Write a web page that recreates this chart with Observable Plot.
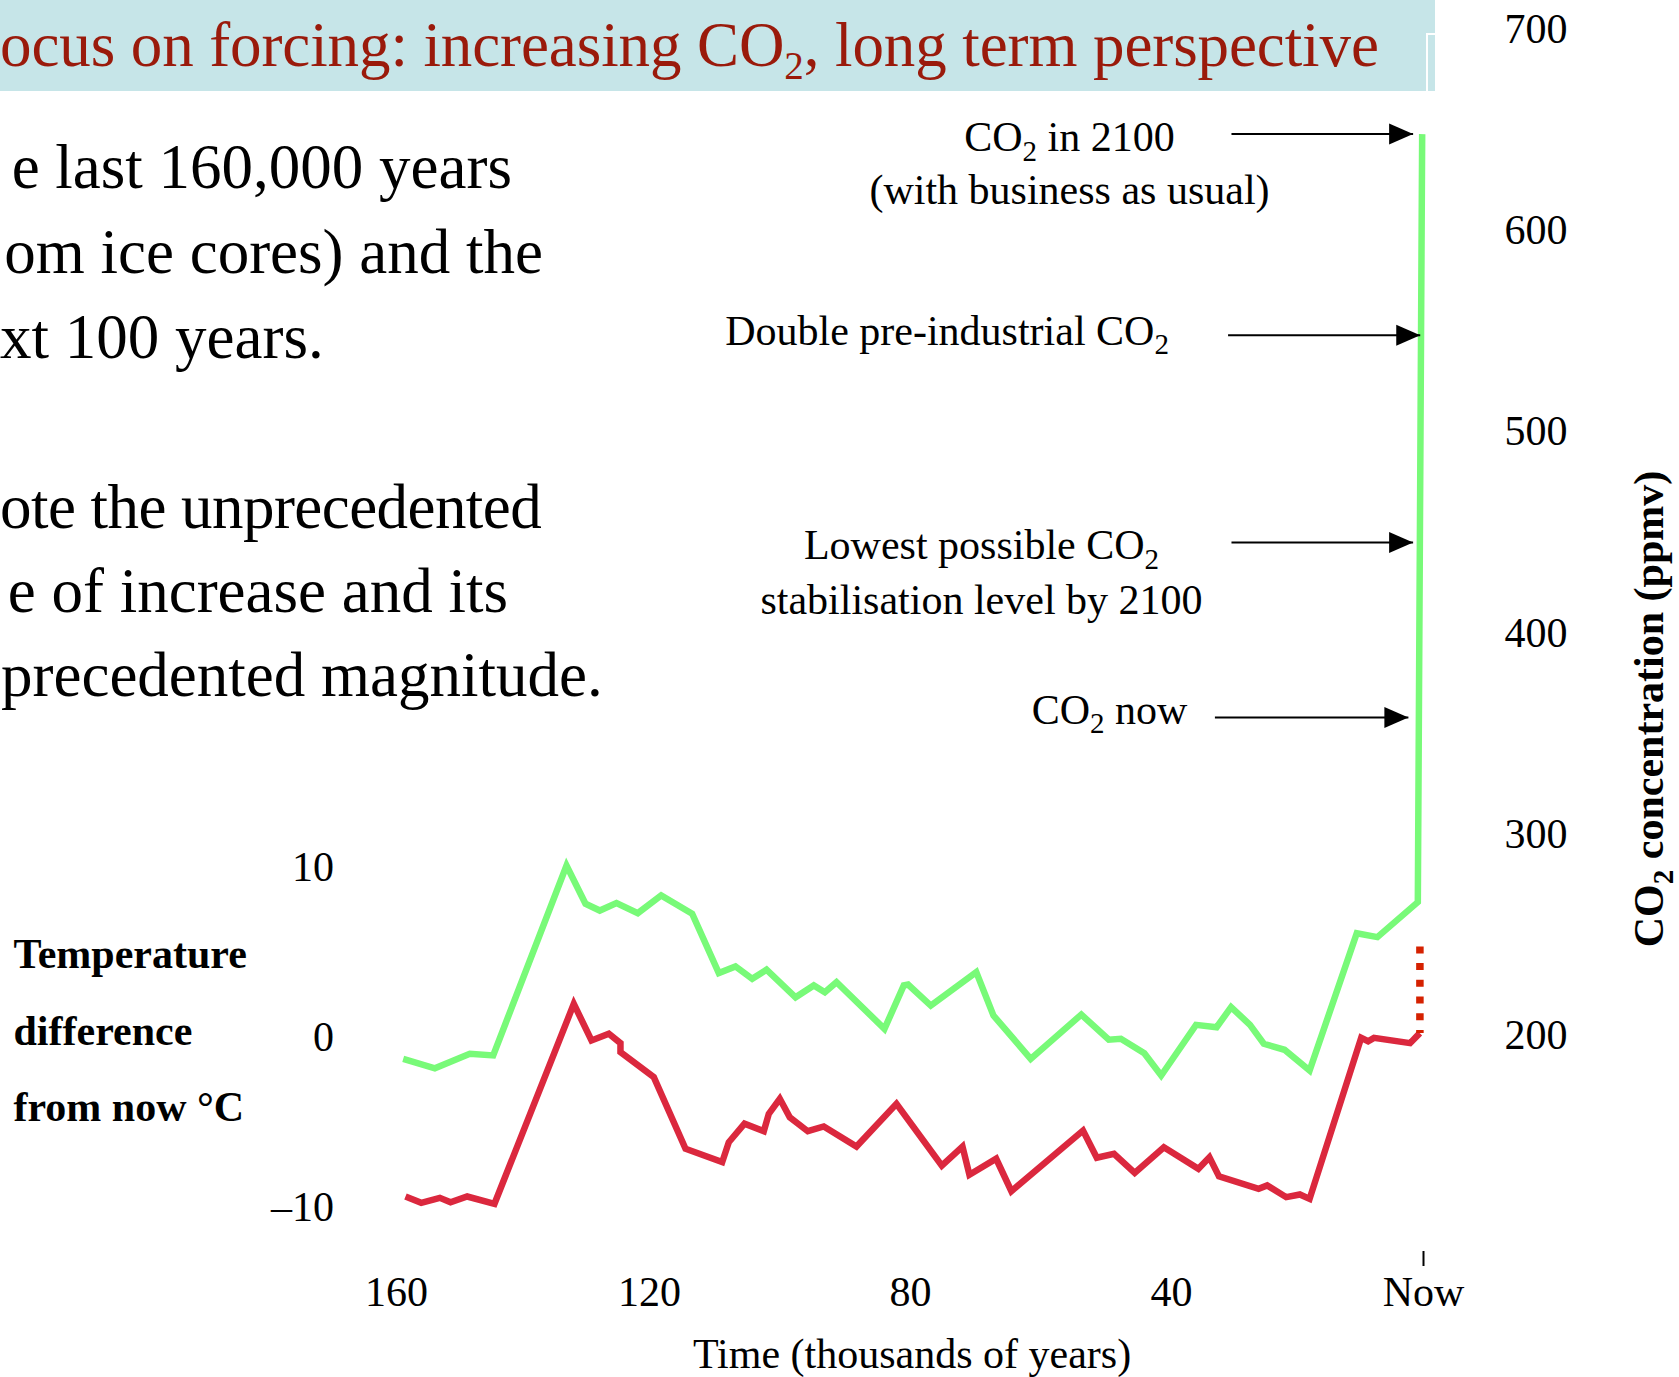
<!DOCTYPE html>
<html>
<head>
<meta charset="utf-8">
<script src="https://cdn.jsdelivr.net/npm/d3@7"></script>
<script src="https://cdn.jsdelivr.net/npm/@observablehq/plot@0.6"></script>
<style>
html, body { margin: 0; padding: 0; background: #fff; }
#page { position: relative; width: 1679px; height: 1377px; overflow: hidden; font-family: "Liberation Serif", "Times New Roman", serif; }
#bar { position: absolute; left: 0; top: 0; width: 1435px; height: 91px; background: #c6e5e8; }
.bar-v { position: absolute; left: 1426px; top: 33px; width: 2px; height: 58px; background: #fff; }
.bar-h { position: absolute; left: 1426px; top: 33px; width: 9px; height: 2px; background: #fff; }
#chart { position: absolute; left: 0; top: 0; }
#title { position: absolute; left: 0; top: 14.2px; font-size: 63px; line-height: 63px; color: #9a1a0b; white-space: nowrap; letter-spacing: -0.1px; }
#title .sub { font-size: 0.62em; position: relative; top: 0.33em; }
.line { position: absolute; font-size: 63px; line-height: 63px; white-space: nowrap; color: #000; }
#ylabel-right { position: absolute; left: 1650.8px; top: 709px; font-size: 42px; line-height: 42px; font-weight: bold; white-space: nowrap; color: #000; transform: translate(-50%, -50%) rotate(-90deg); }
#ylabel-right .sub { font-size: 29px; position: relative; top: 10px; }
</style>
</head>
<body>
<div id="page">
  <div id="bar"></div>
  <div class="bar-v"></div>
  <div class="bar-h"></div>
  <div id="chart"></div>
  <div id="title">ocus on forcing: increasing CO<span class="sub">2</span>, long term perspective</div>
  <div class="line" style="right:1167px; top:136.2px;">e last 160,000 years</div>
  <div class="line" style="right:1136px; top:221.2px;">om ice cores) and the</div>
  <div class="line" style="left:0; top:305.6px;">xt 100 years.</div>
  <div class="line" style="left:0; top:475.9px; letter-spacing:-0.55px;">ote the unprecedented</div>
  <div class="line" style="right:1171px; top:560.1px;">e of increase and its</div>
  <div class="line" style="left:1px; top:644.2px;">precedented magnitude.</div>
  <div id="ylabel-right"></div>
</div>
<script>
// ---------------- data ----------------
// CO2 from ice cores: age in thousands of years before now, ppmv
const co2Age = [158.94, 153.94, 148.41, 144.71, 133.12, 130.12, 127.86, 125.22, 121.85, 118.21, 113.46, 109.38, 106.82, 104.26, 102.07, 97.62, 94.82, 93.13, 91.34, 83.99, 81.03, 80.37, 76.89, 69.92, 67.28, 61.58, 53.82, 49.61, 47.76, 44.17, 41.58, 36.11, 32.84, 30.54, 27.54, 25.35, 22.06, 18.08, 10.59, 7.32, 0.90];
const co2Ppm = [188.4, 183.7, 190.9, 190.1, 284.5, 265.5, 262.1, 265.8, 260.8, 269.6, 260.5, 231.0, 234.3, 228.2, 232.7, 219.0, 224.9, 221.5, 226.5, 203.3, 224.9, 225.3, 214.9, 231.5, 209.9, 188.4, 210.4, 197.9, 198.4, 191.2, 180.1, 205.3, 204.1, 214.1, 205.3, 195.9, 192.9, 182.6, 250.8, 248.9, 266.3];
// CO2 in 2100 (business as usual)
const co2FutureAge = [0.21];
const co2FuturePpm = [648];
// Temperature difference from now, °C
const tempAge = [158.58, 156.09, 153.15, 151.46, 148.82, 144.51, 131.97, 129.17, 126.43, 124.59, 124.59, 119.34, 114.48, 108.86, 107.85, 105.44, 102.48, 101.72, 100.03, 98.50, 95.74, 93.29, 88.28, 82.15, 75.20, 72.03, 70.97, 66.87, 64.54, 53.56, 51.45, 48.81, 45.64, 41.17, 35.73, 33.98, 32.46, 26.17, 24.81, 21.79, 19.62, 18.08, 9.89, 8.79, 7.86, 2.13, 0.59];
const tempC = [-9.47, -9.84, -9.55, -9.81, -9.47, -9.90, 1.86, -0.29, 0.10, -0.45, -0.98, -2.45, -6.66, -7.45, -6.28, -5.19, -5.63, -4.61, -3.72, -4.81, -5.63, -5.35, -6.53, -4.02, -7.65, -6.53, -8.19, -7.25, -9.16, -5.59, -7.19, -6.96, -8.08, -6.57, -7.84, -7.16, -8.29, -9.02, -8.82, -9.51, -9.35, -9.61, -0.14, -0.34, -0.14, -0.45, 0.14];
// projected temperature rise (dotted)
const tempFutureAge = [0.57, 0.57];
const tempFutureC = [5.24, 0.14];

const xTicks = [160, 120, 80, 40, 0];
const xTickLabels = ["160", "120", "80", "40", "Now"];
const co2Ticks = [200, 300, 400, 500, 600, 700];
const tempTicks = [-10, 0, 10];
const tempTickLabels = ["–10", "0", "10"];

const annotationLabels = [
  "CO₂ in 2100\n(with business as usual)",
  "Double pre-industrial CO₂",
  "Lowest possible CO₂\nstabilisation level by 2100",
  "CO₂ now"
];
const annotationPpm = [648, 548, 445, 358];

const xAxisLabel = "Time (thousands of years)";
const co2AxisLabel = "CO₂ concentration (ppmv)";
const tempAxisLabel = "Temperature\ndifference\nfrom now °C";

// ---------------- layout ----------------
const W = 1679, H = 1377;
const X_RANGE = [396, 649, 910, 1171, 1423];   // pixel columns of the x tick labels
const FRAME_LEFT = X_RANGE[0], FRAME_RIGHT = X_RANGE[X_RANGE.length - 1], FRAME_BOTTOM = 1251;
const PX_PER_PPM = 2.012, PX_PER_DEG = 17.0;
const Y200 = 1035;                        // pixel row of 200 ppmv and of 0 °C
const Y_TOP = Y200 - 500 * PX_PER_PPM;    // pixel row of 700 ppmv
const PPM_PER_DEG = PX_PER_DEG / PX_PER_PPM;
const tToPpm = t => 200 + t * PPM_PER_DEG;
const ppmToT = p => (p - 200) / PPM_PER_DEG;
const yPx = p => Y200 - (p - 200) * PX_PER_PPM;
const FS = 42;

const co2Data = co2Age.map((a, i) => ({age: a, ppm: co2Ppm[i]}))
  .concat(co2FutureAge.map((a, i) => ({age: a, ppm: co2FuturePpm[i]})));
const tempData = tempAge.map((a, i) => ({age: a, t: tempC[i]}));
const tempFuture = tempFutureAge.map((a, i) => ({age: a, t: tempFutureC[i]}));
const annotations = annotationLabels.map((label, i) => ({label, ppm: annotationPpm[i]}));

// arrow extents (in chart x units) and text placement (pixel offsets from the arrow tip)
const arrowLayout = [
  {from: 30.48, to: 1.65, dx: -343.6, baseline: 150.5, lineHeight: 1.252},
  {from: 31.02, to: 0.52, dx: -473.2, baseline: 344.0, lineHeight: 1},
  {from: 30.48, to: 1.65, dx: -431.6, baseline: 558.8, lineHeight: 1.302},
  {from: 33.11, to: 2.40, dx: -298.9, baseline: 723.0, lineHeight: 1}
];

const frameMidX = (FRAME_LEFT + FRAME_RIGHT) / 2;

const svg = Plot.plot({
  width: W,
  height: H,
  marginLeft: FRAME_LEFT,
  marginRight: W - FRAME_RIGHT,
  marginTop: Y_TOP,
  marginBottom: H - FRAME_BOTTOM,
  style: {background: "transparent", fontFamily: "'Liberation Serif', 'Times New Roman', serif", fontSize: FS + "px", color: "black", overflow: "visible", maxWidth: "none"},
  x: {type: "linear", domain: xTicks, range: X_RANGE, label: null, axis: null},
  y: {domain: [100, 700], range: [Y200 + 100 * PX_PER_PPM, Y_TOP], label: null, axis: null},
  marks: [
    // right axis: CO2
    Plot.axisY({anchor: "right", ticks: co2Ticks, tickFormat: d => String(d), tickSize: 0, tickPadding: 81, fontSize: FS, label: null}),
    // left axis: temperature (shares pixels: 0 °C = 200 ppmv)
    Plot.axisY({anchor: "left", ticks: tempTicks.map(tToPpm), tickFormat: d => tempTickLabels[tempTicks.indexOf(Math.round(ppmToT(d)))], tickSize: 0, tickPadding: 62.5, dy: 2.5, fontSize: FS, label: null}),
    // x axis labels
    Plot.axisX({ticks: xTicks, tickFormat: d => xTickLabels[xTicks.indexOf(d)], tickSize: 0, tickPadding: 25, fontSize: FS, label: null}),
    // the single "Now" tick
    Plot.axisX({ticks: [0], tickFormat: () => "", tickSize: 15, strokeWidth: 2, label: null}),
    // CO2 line
    Plot.line(co2Data, {x: "age", y: "ppm", stroke: "#78fa78", strokeWidth: 6.5, strokeLinejoin: "miter", strokeLinecap: "butt", strokeMiterlimit: 3}),
    // temperature line
    Plot.line(tempData, {x: "age", y: d => tToPpm(d.t), stroke: "#db283e", strokeWidth: 6.5, strokeLinejoin: "miter", strokeLinecap: "butt", strokeMiterlimit: 3}),
    // projected temperature (dotted)
    Plot.line(tempFuture, {x: "age", y: d => tToPpm(d.t), stroke: "#d52100", strokeWidth: 7.5, strokeDasharray: "7,9.7", strokeLinecap: "butt"}),
    // annotation arrows
    Plot.link(annotations, {x1: (d, i) => arrowLayout[i].from, x2: (d, i) => arrowLayout[i].to, y1: "ppm", y2: "ppm", stroke: "black", strokeWidth: 2, markerEnd: "arrow"}),
    // annotation texts
    ...annotations.map((a, i) => {
      const L = arrowLayout[i];
      return Plot.text([a], {
        x: () => L.to, y: "ppm", text: "label",
        dx: L.dx, dy: L.baseline - yPx(a.ppm) - 0.71 * L.lineHeight * FS, lineHeight: L.lineHeight,
        textAnchor: "middle", lineAnchor: "top", fontSize: FS, fill: "black"
      });
    }),
    // axis titles
    Plot.text([xAxisLabel], {text: d => d, frameAnchor: "bottom", lineAnchor: "top", textAnchor: "middle", dx: 911.5 - frameMidX, dy: 1367 - FRAME_BOTTOM - 0.71 * FS, fontSize: FS}),
    Plot.text([tempAxisLabel], {text: d => d, frameAnchor: "bottom-left", lineAnchor: "top", textAnchor: "start", lineHeight: 1.82, dx: 13 - FRAME_LEFT, dy: 968 - FRAME_BOTTOM - 0.71 * 1.82 * FS, fontSize: FS, fontWeight: "bold"})
  ]
});

// filled triangular arrowheads
const NS = "http://www.w3.org/2000/svg";
svg.querySelectorAll("marker").forEach(m => {
  m.setAttribute("viewBox", "-24 -11 24 22");
  m.setAttribute("markerUnits", "userSpaceOnUse");
  m.setAttribute("markerWidth", "24");
  m.setAttribute("markerHeight", "22");
  m.setAttribute("refX", "0");
  m.setAttribute("refY", "0");
  m.setAttribute("overflow", "visible");
  while (m.firstChild) m.removeChild(m.firstChild);
  const p = document.createElementNS(NS, "path");
  p.setAttribute("d", "M-24,-10.5L0,0L-24,10.5Z");
  p.setAttribute("fill", "black");
  p.setAttribute("stroke", "none");
  m.appendChild(p);
});

// subscripts for CO₂ in SVG text
(function applySubscripts(root) {
  const nodes = [];
  const walker = document.createTreeWalker(root, NodeFilter.SHOW_TEXT);
  while (walker.nextNode()) if (walker.currentNode.nodeValue.includes("₂")) nodes.push(walker.currentNode);
  for (const node of nodes) {
    const parts = node.nodeValue.split("₂");
    const frag = document.createDocumentFragment();
    parts.forEach((p, i) => {
      if (i > 0) {
        const t = document.createElementNS(NS, "tspan");
        t.style.baselineShift = "-10px";
        t.setAttribute("font-size", "29");
        t.textContent = "2";
        frag.appendChild(t);
      }
      if (p) frag.appendChild(document.createTextNode(p));
    });
    node.parentNode.replaceChild(frag, node);
  }
})(svg);

document.getElementById("chart").appendChild(svg);

// rotated right-hand axis title (HTML, with a real subscript)
(function () {
  const el = document.getElementById("ylabel-right");
  const parts = co2AxisLabel.split("₂");
  el.appendChild(document.createTextNode(parts[0]));
  const sub = document.createElement("span");
  sub.className = "sub";
  sub.textContent = "2";
  el.appendChild(sub);
  el.appendChild(document.createTextNode(parts[1]));
})();
</script>
</body>
</html>
